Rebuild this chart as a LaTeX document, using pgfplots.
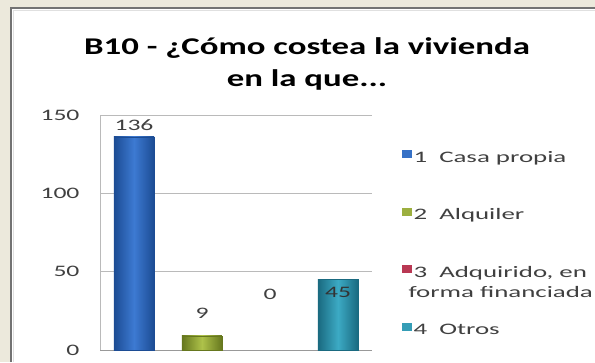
\documentclass[border=0pt]{standalone}
\usepackage{pgfplots}
\pgfplotsset{compat=1.18}
\usepackage{fontspec}
\setmainfont[FakeStretch=1.6]{Carlito}
\newfontfamily\titlefont[FakeStretch=1.45]{Carlito}
\newfontfamily\legfont[FakeStretch=1.68]{Carlito}
\definecolor{beige}{HTML}{ECE9DC}
\definecolor{bluedk}{HTML}{1C4C94}
\definecolor{bluelt}{HTML}{3D7AD2}
\definecolor{greendk}{HTML}{66771E}
\definecolor{greenlt}{HTML}{AEC24A}
\definecolor{reddk}{HTML}{8E1F36}
\definecolor{redlt}{HTML}{C8405C}
\definecolor{tealdk}{HTML}{1A6A80}
\definecolor{teallt}{HTML}{3CAAC4}
\definecolor{txt}{HTML}{404040}
\newcommand{\st}{\rule[-4pt]{0pt}{16pt}}
\begin{document}
\begin{tikzpicture}[x=1pt,y=1pt]
\useasboundingbox (0,0) rectangle (595,362);
\fill[beige] (0,0) rectangle (595,362);
\fill[white] (12,0) rectangle (595,353);
\draw[line width=2pt, color=black!55] (11,0) -- (11,354) -- (595,354);
\draw[line width=1.5pt, color=black!12] (13.5,0) -- (13.5,351.5) -- (595,351.5);
\node[font=\titlefont\bfseries\fontsize{24}{32}\selectfont, align=center] at (307,298) {B10 - ¿Cómo costea la vivienda\\en la que...};
\begin{axis}[
  at={(100pt,12pt)}, anchor=south west, scale only axis,
  width=272pt, height=235pt,
  xmin=-0.5, xmax=3.5, ymin=0, ymax=150,
  ytick={0,50,100,150}, xtick=\empty,
  ymajorgrids, grid style={color=black!27, line width=0.8pt},
  axis x line*=bottom, axis y line*=left,
  axis line style={color=black!27, line width=0.8pt, -},
  x axis line style={color=black!40},
  major tick length=0pt,
  /pgf/number format/assume math mode=true,
  yticklabel style={font=\fontsize{16}{19}\selectfont, text=txt, xshift=-17pt},
  bar width=40pt,
  nodes near coords,
  nodes near coords style={font=\fontsize{16}{19}\selectfont, text=txt, anchor=center},
  legend style={at={(axis description cs:1.11,0.851)}, anchor=north west,
    draw=none, fill=none, inner sep=0pt, row sep=44pt, column sep=2pt,
    font=\legfont\fontsize{16}{20}\selectfont, text=txt,
    nodes={inner sep=0pt}},
  legend cell align=left,
]
\addplot[ybar, forget plot, bar shift=0pt, draw=bluedk, left color=bluedk, right color=bluedk, middle color=bluelt,
  every node near coord/.append style={yshift=12pt}] coordinates {(0,136)};
\addplot[ybar, forget plot, bar shift=0pt, draw=greendk, left color=greendk, right color=greendk, middle color=greenlt,
  every node near coord/.append style={yshift=23pt}] coordinates {(1,9)};
\addplot[ybar, forget plot, bar shift=0pt, draw=none, left color=reddk, right color=reddk, middle color=redlt,
  every node near coord/.append style={yshift=56pt}] coordinates {(2,0)};
\addplot[ybar, forget plot, bar shift=0pt, draw=tealdk, left color=tealdk, right color=tealdk, middle color=teallt,
  every node near coord/.append style={yshift=-13pt, text=black!80}] coordinates {(3,45)};
\addlegendimage{legend image code/.code={\fill[bluelt!80!bluedk] (0pt,-0.5pt) rectangle (9pt,6.5pt);}}
\addlegendentry{\st 1~~Casa propia}
\addlegendimage{legend image code/.code={\fill[greenlt!75!greendk] (0pt,-0.5pt) rectangle (9pt,6.5pt);}}
\addlegendentry{\st 2~~Alquiler}
\addlegendimage{legend image code/.code={\fill[redlt!75!reddk] (0pt,-0.5pt) rectangle (9pt,6.5pt);}}
\addlegendentry{\st\smash{\vtop{\hbox{3~~Adquirido, en}\hbox{\hspace*{-5pt}forma financiada}}}}
\addlegendimage{legend image code/.code={\fill[teallt!80!tealdk] (0pt,-0.5pt) rectangle (9pt,6.5pt);}}
\addlegendentry{\st 4~~Otros}
\end{axis}
\end{tikzpicture}
\end{document}
